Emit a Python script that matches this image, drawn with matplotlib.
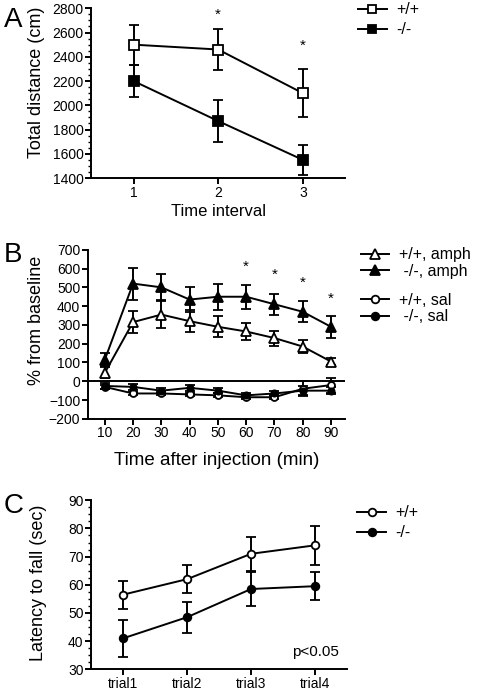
import matplotlib
matplotlib.use("Agg")
import matplotlib.pyplot as plt
from matplotlib.ticker import AutoMinorLocator, MultipleLocator
from matplotlib.lines import Line2D

plt.rcParams["font.family"] = ["Liberation Sans", "DejaVu Sans"]

# Panel A: total distance per time interval
a_x = [1, 2, 3]
a_wt = [2500, 2460, 2100]
a_wt_err = [165, 165, 200]
a_ko = [2200, 1870, 1550]
a_ko_err = [135, 170, 125]
a_star_x = [2, 3]
a_star_y = [2745, 2490]

# Panel B: % from baseline after injection
b_x = [10, 20, 30, 40, 50, 60, 70, 80, 90]
b_wt_amph = [45, 315, 355, 320, 290, 265, 230, 185, 105]
b_wt_amph_err = [30, 60, 70, 60, 55, 45, 40, 35, 20]
b_ko_amph = [115, 520, 500, 435, 450, 450, 410, 370, 290]
b_ko_amph_err = [35, 85, 70, 65, 70, 65, 55, 55, 60]
b_wt_sal = [-30, -65, -65, -70, -75, -85, -85, -40, -20]
b_wt_sal_err = [10, 10, 10, 10, 10, 10, 10, 40, 40]
b_ko_sal = [-25, -30, -50, -35, -50, -75, -65, -50, -50]
b_ko_sal_err = [15, 15, 15, 15, 15, 15, 15, 25, 20]
b_star_x = [60, 70, 80, 90]
b_star_y = [610, 565, 525, 440]

# Panel C: rotarod latency
c_labels = ["trial1", "trial2", "trial3", "trial4"]
c_wt = [56.5, 62, 71, 74]
c_wt_err = [5, 5, 6, 7]
c_ko = [41, 48.5, 58.5, 59.5]
c_ko_err = [6.5, 5.5, 6, 5]

TICK_FS = 10
LEG_FS = 11.5
LW = 1.4


def style(ax):
    for s in ("top", "right"):
        ax.spines[s].set_visible(False)
    for s in ("left", "bottom"):
        ax.spines[s].set_linewidth(LW)
    ax.tick_params(labelsize=TICK_FS, width=LW, length=4, pad=1.5)
    ax.tick_params(which="minor", width=1.0, length=2.5)


def series(ax, x, y, err, marker, fill, ms):
    ax.errorbar(x, y, yerr=err, color="black", lw=LW, elinewidth=LW,
                capsize=3.5, capthick=LW, marker=marker, ms=ms,
                mfc=fill, mec="black", mew=1.3, zorder=3)


def handle(marker, fill, ms):
    return Line2D([], [], color="black", lw=LW, marker=marker, ms=ms,
                  mfc=fill, mec="black", mew=1.3)


def legend(ax, handles, labels, anchor, spacing=0.3):
    return ax.legend(handles, labels, loc="upper left", bbox_to_anchor=anchor,
                     frameon=False, fontsize=LEG_FS, handlelength=1.8,
                     handletextpad=0.6, labelspacing=spacing, borderpad=0,
                     borderaxespad=0)


fig = plt.figure(figsize=(4.8, 6.9), dpi=100)

# ---- A
ax = fig.add_axes([0.190, 0.742, 0.529, 0.246])
series(ax, a_x, a_wt, a_wt_err, "s", "white", 6.5)
series(ax, a_x, a_ko, a_ko_err, "s", "black", 6.5)
for x, y in zip(a_star_x, a_star_y):
    ax.text(x, y, "*", ha="center", va="center", fontsize=11)
ax.set_xlim(0.5, 3.5)
ax.set_ylim(1400, 2800)
ax.set_xticks(a_x)
ax.yaxis.set_major_locator(MultipleLocator(200))
ax.yaxis.set_minor_locator(AutoMinorLocator(4))
ax.set_xlabel("Time interval", fontsize=12, labelpad=3)
ax.set_ylabel("Total distance (cm)", fontsize=13)
ax.yaxis.set_label_coords(-0.18, 0.565)
style(ax)
legend(ax, [handle("s", "white", 6), handle("s", "black", 6)], ["+/+", "-/-"],
       (1.05, 1.035))
fig.text(0.008, 0.99, "A", fontsize=20, va="top")

# ---- B
ax = fig.add_axes([0.183, 0.393, 0.536, 0.245])
ax.axhline(0, color="black", lw=LW, zorder=2)
series(ax, b_x, b_wt_sal, b_wt_sal_err, "o", "white", 5)
series(ax, b_x, b_ko_sal, b_ko_sal_err, "o", "black", 4.5)
series(ax, b_x, b_wt_amph, b_wt_amph_err, "^", "white", 7.5)
series(ax, b_x, b_ko_amph, b_ko_amph_err, "^", "black", 7.5)
for x, y in zip(b_star_x, b_star_y):
    ax.text(x, y, "*", ha="center", va="center", fontsize=11)
ax.set_xlim(4, 95)
ax.set_ylim(-200, 700)
ax.set_xticks(b_x)
ax.yaxis.set_major_locator(MultipleLocator(100))
ax.set_xlabel("Time after injection (min)", fontsize=13.5, labelpad=8)
ax.set_ylabel("% from baseline", fontsize=13)
ax.yaxis.set_label_coords(-0.167, 0.58)
style(ax)
leg1 = legend(ax, [handle("^", "white", 7), handle("^", "black", 7)],
              ["+/+, amph", " -/-, amph"], (1.06, 1.015), spacing=0.1)
ax.add_artist(leg1)
legend(ax, [handle("o", "white", 5.5), handle("o", "black", 5.5)],
       ["+/+, sal", " -/-, sal"], (1.06, 0.745), spacing=0.1)
fig.text(0.008, 0.65, "B", fontsize=20, va="top")

# ---- C
ax = fig.add_axes([0.190, 0.030, 0.533, 0.245])
cx = list(range(1, len(c_labels) + 1))
series(ax, cx, c_wt, c_wt_err, "o", "white", 5.5)
series(ax, cx, c_ko, c_ko_err, "o", "black", 5.5)
ax.text(0.97, 0.06, "p<0.05", transform=ax.transAxes, ha="right",
        va="bottom", fontsize=11)
ax.set_xlim(0.5, 4.5)
ax.set_ylim(30, 90)
ax.set_xticks(cx)
ax.set_xticklabels(c_labels)
ax.yaxis.set_major_locator(MultipleLocator(10))
ax.yaxis.set_minor_locator(AutoMinorLocator(4))
ax.set_ylabel("Latency to fall (sec)", fontsize=13)
ax.yaxis.set_label_coords(-0.172, 0.51)
style(ax)
legend(ax, [handle("o", "white", 5.5), handle("o", "black", 5.5)],
       ["+/+", "-/-"], (1.04, 0.97))
fig.text(0.008, 0.285, "C", fontsize=20, va="top")

fig.savefig("out.png", dpi=100)
